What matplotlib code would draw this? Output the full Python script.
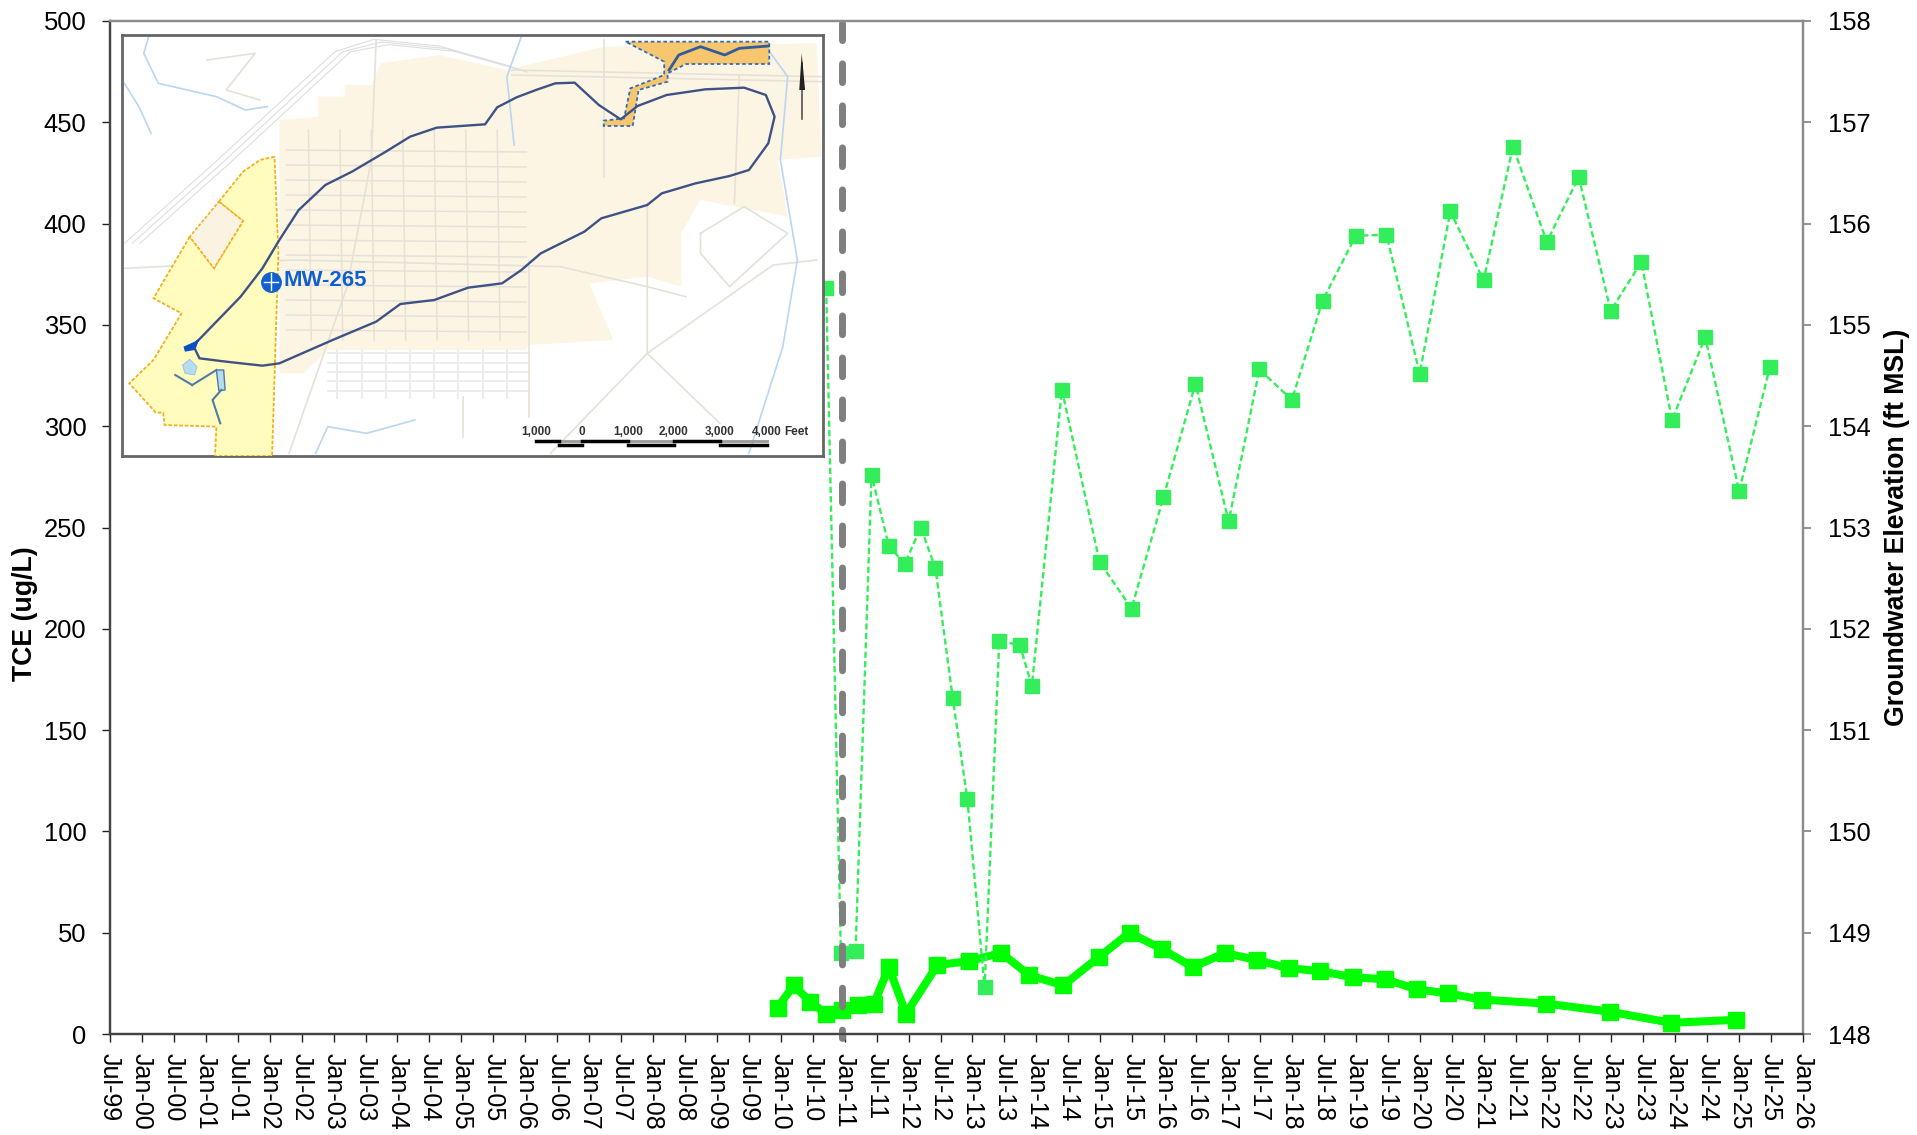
import matplotlib
matplotlib.use("Agg")
import matplotlib.pyplot as plt
from matplotlib.patches import Polygon

plt.rcParams['font.family'] = ['Liberation Sans', 'DejaVu Sans']

# ---- data ----
tce_dates = [2009.95, 2010.20, 2010.46, 2010.71, 2010.96, 2011.21, 2011.46, 2011.69, 2011.96,
             2012.45, 2012.95, 2013.45, 2013.89, 2014.42, 2014.98, 2015.46, 2015.96, 2016.45,
             2016.95, 2017.45, 2017.95, 2018.44, 2018.96, 2019.46, 2019.96, 2020.45, 2020.97,
             2021.98, 2022.98, 2023.94, 2024.95]
tce_values = [13, 24, 16, 10, 12, 14.5, 15, 33, 10, 34, 36, 40, 29, 24, 38, 50, 42, 33, 40, 36.5,
              32.5, 31, 28, 27, 22, 20, 17, 15, 11, 5.5, 7]

gw_dates = [2010.71, 2010.94, 2011.17, 2011.42, 2011.69, 2011.94, 2012.19, 2012.42, 2012.69,
            2012.92, 2013.19, 2013.42, 2013.74, 2013.93, 2014.40, 2014.99, 2015.49, 2015.99,
            2016.49, 2017.01, 2017.49, 2018.00, 2018.48, 2019.00, 2019.48, 2020.00, 2020.48,
            2021.00, 2021.46, 2021.99, 2022.49, 2022.99, 2023.47, 2023.95, 2024.47, 2025.00, 2025.48]
gw_values = [155.36, 148.80, 148.82, 153.52, 152.82, 152.64, 153.00, 152.60, 151.32, 150.32,
             148.46, 151.88, 151.84, 151.44, 154.36, 152.66, 152.20, 153.30, 154.42, 153.06,
             154.56, 154.26, 155.24, 155.88, 155.89, 154.52, 156.12, 155.44, 156.76, 155.82,
             156.46, 155.14, 155.62, 154.06, 154.88, 153.36, 154.58]

tick_years = [1999.5 + 0.5 * i for i in range(54)]
tick_labels = [("Jul-" if y % 1 else "Jan-") + f"{int(y) % 100:02d}" for y in tick_years]
event_date = [2010.96]

left_ticks = list(range(0, 501, 50))
right_ticks = list(range(148, 159))

W, H = 1917, 1135
L, R, T, B = 110, 1803, 21, 1034
fig = plt.figure(figsize=(W / 100, H / 100), dpi=100)
ax = fig.add_axes([L / W, 1 - B / H, (R - L) / W, (B - T) / H])
ax2 = ax.twinx()

ax.plot(tce_dates, tce_values, '-s', color='#00FF00', lw=5.8, ms=12, clip_on=False)
ax2.plot(gw_dates, gw_values, color='#33EE5A', ls=(0, (2.6, 1.4)), lw=1.7, marker='s', ms=10.5)
ax2.axvline(event_date[0], color='#7F7F7F', lw=5, ls=(1.5, (2.7, 3.35)), dash_capstyle='round',
            ymin=-0.004, ymax=0.998, clip_on=False)

ax.set_xlim(1999.5, 2026)
ax.set_ylim(0, 500)
ax2.set_ylim(148, 158)
ax.set_xticks(tick_years)
ax.set_xticklabels(tick_labels, rotation=-90, ha='center', va='top', fontsize=18)
ax.set_yticks(left_ticks)
ax2.set_yticks(right_ticks)
ax.tick_params(axis='y', labelsize=18.4, length=6, pad=11, color='#222222', width=1)
ax2.tick_params(axis='y', labelsize=18.4, length=6, pad=12, color='#808080', width=1.2)
ax.tick_params(axis='x', length=6, pad=7.5, color='#222222', width=1)
ax.set_ylabel('TCE (ug/L)', fontsize=19.2, fontweight='bold', va='center')
ax.yaxis.set_label_coords((25 - L) / (R - L), (B - 614) / (B - T))
ax2.set_ylabel('Groundwater Elevation (ft MSL)', fontsize=19.2, fontweight='bold', va='center', rotation=90)
ax2.yaxis.set_label_coords((1897 - L) / (R - L), (B - 527) / (B - T))
for a in (ax, ax2):
    a.spines['top'].set_color('#8C8C8C')
    a.spines['right'].set_color('#8C8C8C')
    a.spines['left'].set_color('#444444')
    a.spines['bottom'].set_color('#444444')
    for s in a.spines.values():
        s.set_linewidth(1.6)

# ---- inset site map (schematic, in its own map coordinates) ----
m = fig.add_axes([122 / W, 1 - 456 / H, (823 - 122) / W, (456 - 35) / H], zorder=10)
m.set_xlim(45, 1493)
m.set_ylim(1308, 45)
m.set_xticks([])
m.set_yticks([])
for s in m.spines.values():
    s.set_color('#666666')
    s.set_linewidth(2)

tan = [(370, 300), (450, 290), (450, 230), (505, 230), (505, 195), (560, 195), (580, 130), (700, 105),
       (840, 150), (1040, 80), (1480, 70), (1490, 410), (1400, 420), (1420, 590), (1240, 540),
       (1200, 640), (1200, 800), (1130, 770), (1010, 790), (1060, 960), (885, 975), (880, 990),
       (470, 990), (420, 1060), (370, 1060)]
m.add_patch(Polygon(tan, fc='#FDF5E4', ec='none', zorder=1))

street = '#E6E1D8'
for y in range(390, 960, 45):
    m.plot([385, 880], [y, y + 6], color=street, lw=1.1, zorder=2)
for x in range(430, 880, 65):
    m.plot([x, x + 6], [330, 960], color=street, lw=1.1, zorder=2)
for y in range(1000, 1140, 28):
    m.plot([470, 885], [y, y], color='#EBEBEB', lw=1.3, zorder=2)
for x in range(490, 885, 50):
    m.plot([x, x], [990, 1135], color='#EBEBEB', lw=1.3, zorder=2)
for off in (0, 16, 32):
    m.plot([50 + off, 235 + off, 485 + off, 565 + off, 700 + off, 850 + off],
           [670, 430, 95, 58 + off / 2, 78 + off / 2, 140 + off / 2], color='#DEDEDE', lw=0.8, zorder=1.5)
for pts in [[(50, 745), (400, 720), (950, 740), (1130, 800), (1210, 830)],
            [(850, 150), (1490, 170)], [(850, 165), (1490, 185)],
            [(1130, 550), (1130, 1000), (1280, 1210)], [(930, 1300), (1130, 1000), (1390, 735), (1480, 720)],
            [(1040, 60), (1040, 470)], [(570, 60), (560, 420), (510, 800), (390, 1300)],
            [(1240, 640), (1330, 560), (1420, 640), (1300, 800), (1240, 700), (1240, 640)],
            [(1320, 170), (1310, 550)], [(750, 1130), (750, 1250)],
            [(220, 120), (320, 100), (260, 210), (330, 240)], [(885, 720), (885, 1190)]]:
    xs, ys = zip(*pts)
    m.plot(xs, ys, color=street, lw=1.2, zorder=2)

yellow = [(360, 410), (330, 420), (295, 455), (245, 545), (295, 603), (235, 745), (185, 650), (110, 835),
          (168, 880), (110, 1020), (60, 1090), (115, 1178), (130, 1178), (133, 1215), (240, 1220),
          (237, 1308), (355, 1308), (368, 700)]
m.add_patch(Polygon(yellow, fc='#FFFCBE', ec='#F2B01E', ls=(0, (2, 1)), lw=1.3, zorder=3))
hole = [(245, 545), (295, 603), (235, 745), (185, 650)]
m.add_patch(Polygon(hole, fc='#FBF3E2', ec='#F2B01E', ls=(0, (2, 1)), lw=1.2, zorder=3))

orange = [(1085, 65), (1382, 65), (1382, 132), (1210, 132), (1172, 160), (1172, 185), (1112, 210), (1100, 318),
          (1040, 318), (1040, 302), (1082, 295), (1095, 205), (1165, 165), (1165, 125)]
m.add_patch(Polygon(orange, fc='#F8C66F', ec='#2F6FB5', ls=(0, (2, 1.5)), lw=1.3, zorder=4))

plume = [(200, 965), (250, 890), (290, 830), (335, 745), (370, 660), (410, 570), (465, 495), (520, 455),
         (590, 395), (640, 350), (695, 323), (795, 313), (820, 262), (860, 232), (900, 210), (940, 190),
         (980, 188), (1030, 255), (1075, 298), (1110, 258), (1170, 225), (1250, 208), (1330, 203), (1375, 225),
         (1393, 290), (1380, 370), (1340, 450), (1300, 468), (1230, 490), (1160, 520), (1130, 555), (1035, 595),
         (1000, 635), (910, 700), (870, 750), (830, 790), (760, 803), (690, 840), (620, 852), (570, 905),
         (480, 960), (370, 1030), (335, 1037), (260, 1025), (205, 1015), (195, 985), (200, 965)]
xs, ys = zip(*plume)
m.plot(xs, ys, color='#3F5285', lw=1.7, zorder=5)
inner = [(1175, 150), (1195, 105), (1240, 80), (1290, 105), (1320, 85), (1380, 78)]
xs, ys = zip(*inner)
m.plot(xs, ys, color='#2F5C9B', lw=2, zorder=5)
m.add_patch(Polygon([(172, 980), (195, 965), (205, 955), (195, 990), (175, 995)], fc='#0B4FC4', ec='none', zorder=6))
m.add_patch(Polygon([(185, 1018), (200, 1040), (195, 1065), (175, 1060), (170, 1035)], fc='#B4DDF0', ec='#8CBAD8', lw=.5, zorder=6))
m.add_patch(Polygon([(240, 1050), (255, 1050), (258, 1110), (245, 1112)], fc='#B4DDF0', ec='#4F7BA8', lw=1, zorder=6))
for pts in [[(190, 1095), (240, 1050)], [(250, 1110), (232, 1140), (248, 1210)], [(155, 1065), (190, 1095)]]:
    xs, ys = zip(*pts)
    m.plot(xs, ys, color='#4F7BA8', lw=1.5, zorder=6)

streams = [[(1380, 90), (1420, 170), (1405, 420), (1440, 720), (1410, 980), (1340, 1300)],
           [(870, 50), (840, 170), (855, 375)],
           [(100, 50), (90, 100), (120, 190), (240, 230), (300, 270), (345, 260)],
           [(50, 190), (80, 260), (105, 340)],
           [(445, 1300), (470, 1220), (550, 1240), (650, 1200)]]
for pts in streams:
    xs, ys = zip(*pts)
    m.plot(xs, ys, color='#B9D6F2', lw=1.2, zorder=2.5)

m.plot([353], [785], marker='o', ms=14, color='#1060D0', zorder=7)
m.plot([338, 368], [785, 785], color='white', lw=1, zorder=8)
m.plot([353, 353], [760, 810], color='white', lw=1, zorder=8)
m.text(378, 782, 'MW-265', color='#1060D0', fontsize=16, fontweight='bold', va='center', ha='left', zorder=8)

for x, label in zip([900, 995, 1090, 1185, 1280, 1377], ['1,000', '0', '1,000', '2,000', '3,000', '4,000']):
    m.text(x, 1235, label, fontsize=8.5, fontweight='bold', color='#333333', ha='center', va='center', zorder=8)
m.text(1437, 1235, 'Feet', fontsize=8.5, fontweight='bold', color='#333333', ha='center', va='center', zorder=8)
m.plot([900, 1377], [1262, 1262], color='#999999', lw=2, zorder=7)
for a, b in [(900, 948), (995, 1090), (1185, 1280)]:
    m.plot([a, b], [1262, 1262], color='black', lw=2.5, zorder=8)
for a, b in [(948, 995), (1090, 1185), (1280, 1377)]:
    m.plot([a, b], [1274, 1274], color='black', lw=2.5, zorder=8)
m.plot([1449, 1449], [130, 298], color='#555555', lw=1.2, zorder=8)
m.add_patch(Polygon([(1449, 100), (1456, 210), (1444, 210)], fc='#222222', ec='none', zorder=8))

fig.savefig('out.png', dpi=100)
